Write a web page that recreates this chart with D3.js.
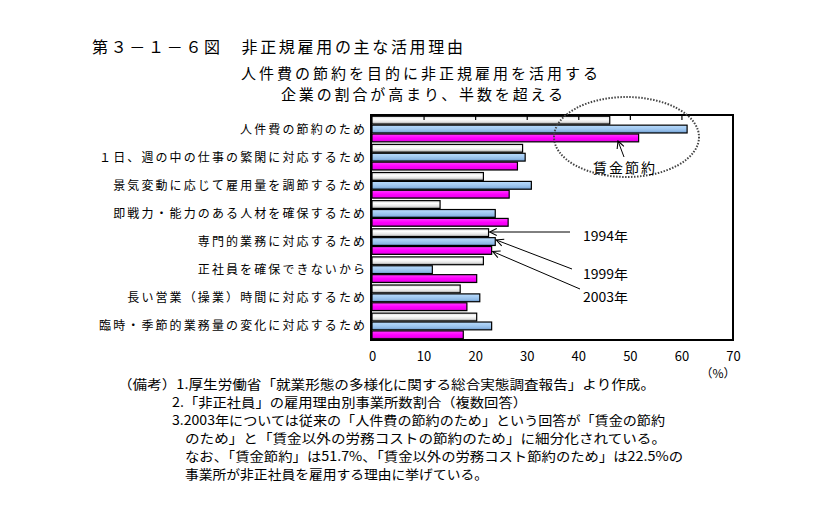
<!DOCTYPE html>
<html><head><meta charset="utf-8">
<script src="https://cdn.jsdelivr.net/npm/d3@7"></script>
<style>
body{margin:0;background:#fff;}
text{font-family:"Noto Sans CJK JP","Noto Sans",sans-serif;fill:#000;}
</style></head>
<body><svg id="c" width="814" height="520"></svg>
<script>
const categories = ["人件費の節約のため","１日、週の中の仕事の繁閑に対応するため","景気変動に応じて雇用量を調節するため","即戦力・能力のある人材を確保するため","専門的業務に対応するため","正社員を確保できないから","長い営業（操業）時間に対応するため","臨時・季節的業務量の変化に対応するため"];
const seriesNames = ["1994年","1999年","2003年"];
const v1994 = [46.1,29.2,21.6,13.2,22.6,21.6,17.1,20.3];
const v1999 = [61.1,29.7,30.9,23.9,23.9,11.7,20.9,23.2];
const v2003 = [51.7,28.2,26.6,26.4,23.2,20.3,18.4,17.7];
const xTicks = [0,10,20,30,40,50,60,70];
const title = "第３－１－６図　非正規雇用の主な活用理由";
const subtitle = ["人件費の節約を目的に非正規雇用を活用する","企業の割合が高まり、半数を超える"];
const notes = [
 ["（備考）1.厚生労働省「就業形態の多様化に関する総合実態調査報告」より作成。",118,537],
 ["2.「非正社員」の雇用理由別事業所数割合（複数回答）",172,355],
 ["3.2003年については従来の「人件費の節約のため」という回答が「賃金の節約",172,493],
 ["のため」と「賃金以外の労務コストの節約のため」に細分化されている。",185,481],
 ["なお、「賃金節約」は51.7%、「賃金以外の労務コスト節約のため」は22.5%の",185,498],
 ["事業所が非正社員を雇用する理由に挙げている。",185,303]
];
const series = [v1994, v1999, v2003];

const svg = d3.select("#c");
const defs = svg.append("defs");
function grad(id, stops){
  const g = defs.append("linearGradient").attr("id",id).attr("x1",0).attr("y1",0).attr("x2",0).attr("y2",1);
  stops.forEach(s=>g.append("stop").attr("offset",s[0]).attr("stop-color",s[1]));
}
grad("g0",[[0,"#d8d8d8"],[0.35,"#ffffff"],[0.7,"#e6e6e6"],[1,"#9a9a9a"]]);
grad("g1",[[0,"#b8dcff"],[0.4,"#a6ccf2"],[0.75,"#8fb9e6"],[1,"#5f8fc4"]]);
grad("g2",[[0,"#ff40ff"],[0.5,"#ff00ff"],[0.8,"#f000f0"],[1,"#a800a8"]]);
const fills = ["url(#g0)","url(#g1)","url(#g2)"];

defs.append("marker").attr("id","arr").attr("viewBox","0 0 10 10").attr("refX",9).attr("refY",5)
  .attr("markerWidth",9).attr("markerHeight",9).attr("orient","auto").attr("markerUnits","userSpaceOnUse")
  .append("path").attr("d","M1,1 L9,5 L1,9").attr("fill","none").attr("stroke","#000").attr("stroke-width",1.2);

const L=372, R=733, T=115, B=340;
const x = d3.scaleLinear().domain([0,70]).range([L,R]);
const y = d3.scaleBand().domain(categories).range([T,B]).paddingInner(0.09).paddingOuter(0.045);
const ys = d3.scaleBand().domain([0,1,2]).range([0,y.bandwidth()]).paddingInner(0.12);

// title
svg.append("text").attr("x",92).attr("y",53).attr("font-size",16).attr("textLength",371).attr("lengthAdjust","spacing").text(title);
svg.append("text").attr("x",241).attr("y",79).attr("font-size",15).attr("textLength",357).attr("lengthAdjust","spacing").text(subtitle[0]);
svg.append("text").attr("x",281).attr("y",100).attr("font-size",15).attr("textLength",282).attr("lengthAdjust","spacing").text(subtitle[1]);

// bars
const g = svg.append("g");
categories.forEach((c,i)=>{
  series.forEach((s,j)=>{
    g.append("rect").attr("x",x(0)).attr("y",y(c)+ys(j)).attr("width",x(s[i])-x(0)).attr("height",ys.bandwidth())
      .attr("fill",fills[j]).attr("stroke","#000").attr("stroke-width",1.2);
  });
});

// frame
svg.append("rect").attr("x",L-1).attr("y",T).attr("width",R-L+1).attr("height",B-T).attr("fill","none").attr("stroke","#000").attr("stroke-width",2);
// top ticks
svg.append("g").attr("transform",`translate(0,${T})`)
  .call(d3.axisBottom(x).tickValues(xTicks.slice(1,-1)).tickSize(5).tickFormat(""))
  .call(a=>a.select(".domain").remove())
  .call(a=>a.selectAll("line").attr("stroke","#000").attr("stroke-width",1.2));
// bottom labels
svg.append("g").attr("transform",`translate(0,${B})`)
  .call(d3.axisBottom(x).tickValues(xTicks).tickSize(0).tickPadding(12).tickFormat(d=>d))
  .call(a=>a.select(".domain").remove())
  .call(a=>a.selectAll("text").attr("font-size",13).attr("font-family","'Liberation Sans Narrow','DejaVu Sans Condensed',sans-serif").style("fill","#000"));
svg.append("text").attr("x",718).attr("y",378).attr("font-size",12).attr("text-anchor","middle").text("（%）");

// category labels
categories.forEach(c=>{
  const n = c.length;
  svg.append("text").attr("x",365).attr("y",y(c)+y.bandwidth()/2+4.5).attr("font-size",12)
    .attr("text-anchor","end").attr("textLength",n*14.1-2).attr("lengthAdjust","spacing").text(c);
});

// ellipse
svg.append("ellipse").attr("cx",626.5).attr("cy",137).attr("rx",72.5).attr("ry",40)
  .attr("fill","none").attr("stroke","#444").attr("stroke-width",2).attr("stroke-dasharray","1.5,1.5");
svg.append("text").attr("x",593).attr("y",173).attr("font-size",14).attr("textLength",62).attr("lengthAdjust","spacing").text("賃金節約");
function arrow(x1,y1,x2,y2){
  svg.append("line").attr("x1",x1).attr("y1",y1).attr("x2",x2).attr("y2",y2).attr("stroke","#000").attr("stroke-width",1).attr("marker-end","url(#arr)");
}
arrow(624,157,618,141);
arrow(570,232,x(v1994[4])+1,232);
arrow(572,269,x(v1999[4])+1,240);
arrow(580,289,x(v2003[4])+1,251.5);
svg.append("text").attr("x",583).attr("y",241).attr("font-size",13).attr("textLength",45).attr("lengthAdjust","spacingAndGlyphs").text(seriesNames[0]);
svg.append("text").attr("x",583).attr("y",279).attr("font-size",13).attr("textLength",45).attr("lengthAdjust","spacingAndGlyphs").text(seriesNames[1]);
svg.append("text").attr("x",583).attr("y",302).attr("font-size",13).attr("textLength",45).attr("lengthAdjust","spacingAndGlyphs").text(seriesNames[2]);

// notes
notes.forEach((n,i)=>{
  svg.append("text").attr("x",n[1]).attr("y",389+i*18).attr("font-size",13)
    .attr("textLength",n[2]).attr("lengthAdjust","spacingAndGlyphs").text(n[0]);
});
</script></body></html>
